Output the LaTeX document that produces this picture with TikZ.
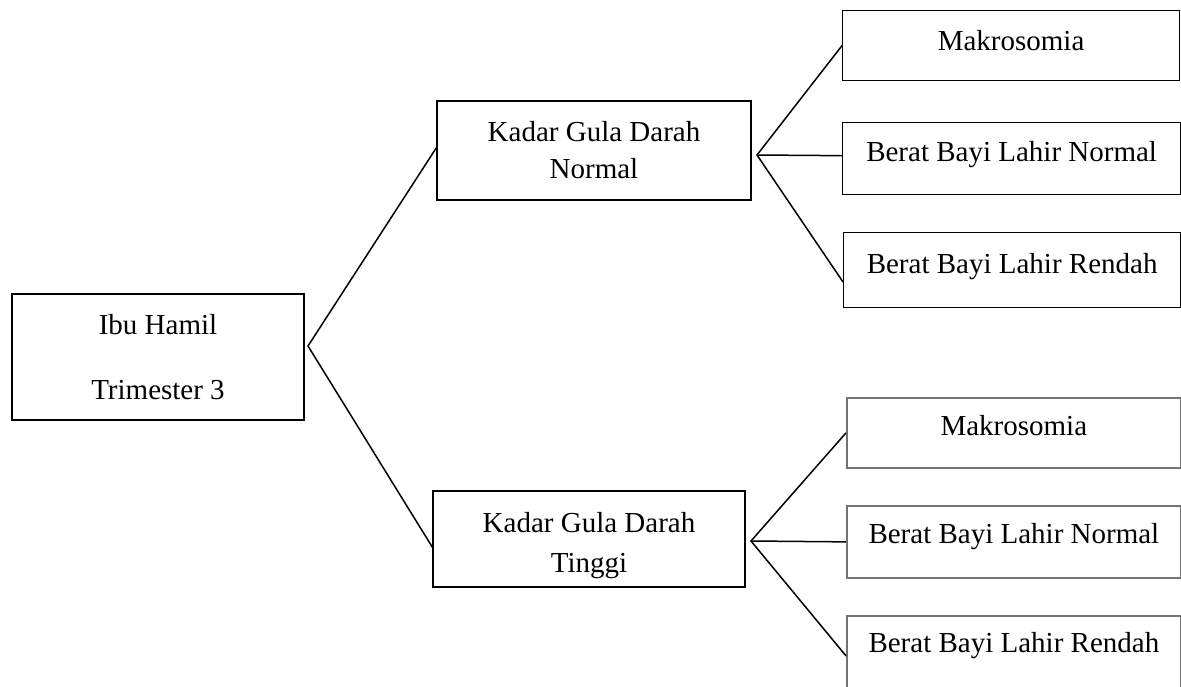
\documentclass[tikz,border=0pt]{standalone}
\usepackage{fontspec}
\setmainfont{Liberation Serif}

\tikzset{
  kotak/.style={draw, line width=0.5pt, inner sep=0pt, align=center, font=\fontsize{11.6}{14.8}\selectfont},
  kotakabu/.style={kotak, draw=black!55, line width=0.7pt},
  garis/.style={line width=0.6pt},
}

\begin{document}
\begin{tikzpicture}[x=0.4pt, y=-0.4pt]
    \useasboundingbox (0,0) rectangle (1181,687);
    \clip (0,0) rectangle (1181,687);

    % Ibu hamil
    \node[kotak, minimum width=292*0.4pt, minimum height=126*0.4pt, font=\fontsize{11.6}{26}\selectfont] (ibu) at (158,357) {Ibu Hamil\\Trimester 3};

    % Kadar gula darah
    \node[kotak, minimum width=314*0.4pt, minimum height=99*0.4pt] (kgdn) at (594,150.5) {Kadar Gula Darah\\Normal};
    \node[kotak, minimum width=312*0.4pt, minimum height=96*0.4pt, font=\fontsize{11.6}{16}\selectfont] (kgdt) at (589,539) {\rule{0pt}{13pt}Kadar Gula Darah\\Tinggi};

    % Hasil (normal)
    \node[kotak, anchor=north west, minimum width=337*0.4pt, text height=16pt, text depth=12pt] (makro1) at (842,10) {Makrosomia};
    \node[kotak, anchor=north west, minimum width=338*0.4pt, text height=15.6pt, text depth=13.2pt] (bbln1) at (842,122) {Berat Bayi Lahir Normal};
    \node[kotak, anchor=north west, minimum width=337*0.4pt, text height=16.4pt, text depth=13.6pt] (bblr1) at (843,232) {Berat Bayi Lahir Rendah};

    % Hasil (tinggi)
    \node[kotakabu, anchor=north west, minimum width=334*0.4pt, text height=15pt, text depth=13pt] (makro2) at (846,397) {Makrosomia};
    \node[kotakabu, anchor=north west, minimum width=334*0.4pt, text height=15.2pt, text depth=13.6pt] (bbln2) at (846,505) {Berat Bayi Lahir Normal};
    \node[kotakabu, anchor=north west, minimum width=334*0.4pt, text height=14.8pt, text depth=17.2pt] (bblr2) at (846,615) {Berat Bayi Lahir Rendah};

    % Titik cabang
    \coordinate (c0) at (308,346);
    \coordinate (c1) at (757,155);
    \coordinate (c2) at (751,541);

    % Garis
    \draw[garis] (kgdn.179) -- (c0) -- (kgdt.183);
    \draw[garis] (makro1.west) -- (c1) -- (bblr1.184);
    \draw[garis] (c1) -- (bbln1.179);
    \draw[garis] (makro2.west) -- (c2) -- (bblr2.west);
    \draw[garis] (c2) -- (bbln2.west);
\end{tikzpicture}
\end{document}
